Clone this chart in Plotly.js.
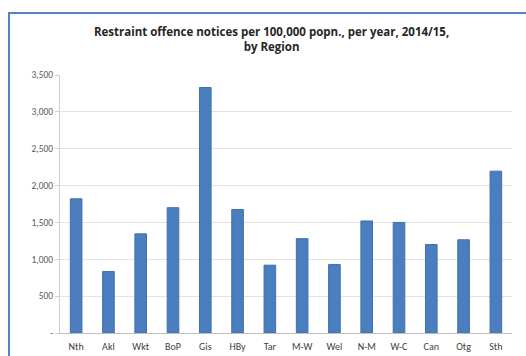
<!DOCTYPE html>
<html>
<head>
<meta charset="utf-8">
<script src="https://cdn.plot.ly/plotly-3.0.1.min.js"></script>
<style>
  html, body { margin: 0; padding: 0; background: #ffffff; overflow: hidden; }
  #frame {
    position: absolute; left: 8px; top: 12px;
    width: 530px; height: 360px;
    border-top: 2px solid #5283c6; border-left: 2px solid #5283c6;
  }
  #chart { position: absolute; left: 0; top: 0; width: 518px; height: 342px; }
</style>
</head>
<body>
<div id="frame"><div id="chart"></div></div>
<script>
// Regions and restraint offence notices per 100,000 population, 2014/15
const regions = ['Nth', 'Akl', 'Wkt', 'BoP', 'Gis', 'HBy', 'Tar', 'M-W', 'Wel', 'N-M', 'W-C', 'Can', 'Otg', 'Sth'];
const notices = [1820, 835, 1345, 1700, 3330, 1675, 920, 1280, 930, 1520, 1500, 1200, 1265, 2195];

// Y-axis ticks (accounting style, zero shown as a dash)
const yTickVals = [0, 500, 1000, 1500, 2000, 2500, 3000, 3500];
const yTickText = ['-', '500', '1,000', '1,500', '2,000', '2,500', '3,000', '3,500'];

const trace = {
  type: 'bar',
  x: regions,
  y: notices,
  width: 0.36,
  marker: { color: '#4a7ebf', line: { color: '#3f70b0', width: 1 } },
  hoverinfo: 'x+y'
};

const layout = {
  width: 518,
  height: 342,
  margin: { l: 50, r: 16, t: 61, b: 23 },
  paper_bgcolor: '#ffffff',
  plot_bgcolor: '#ffffff',
  font: { family: 'Carlito, "Liberation Sans", "DejaVu Sans", sans-serif', color: '#595959', size: 10 },
  title: {
    text: '<b>Restraint offence notices per 100,000 popn., per year, 2014/15,<br>by Region</b>',
    font: { size: 11.5, color: '#262626', family: '"Open Sans", "Liberation Sans", sans-serif' },
    x: 0.505, xanchor: 'center',
    y: 0.935, yanchor: 'top'
  },
  xaxis: {
    type: 'category',
    showgrid: false,
    showline: true,
    linecolor: '#bfbfbf',
    linewidth: 1,
    ticks: '',
    ticklabelstandoff: 4,
    tickfont: { size: 10, color: '#404040' },
    automargin: false,
    fixedrange: true
  },
  yaxis: {
    range: [0, 3500],
    tickvals: yTickVals,
    ticktext: yTickText,
    showgrid: true,
    gridcolor: '#e3e3e3',
    gridwidth: 1,
    zeroline: false,
    showline: true,
    linecolor: '#d0d0d0',
    ticks: 'outside',
    ticklen: 4,
    tickcolor: '#d0d0d0',
    tickfont: { size: 9.5, color: '#595959' },
    automargin: false,
    fixedrange: true
  },
  showlegend: false
};

Plotly.newPlot('chart', [trace], layout, { displayModeBar: false, staticPlot: true });
</script>
</body>
</html>
